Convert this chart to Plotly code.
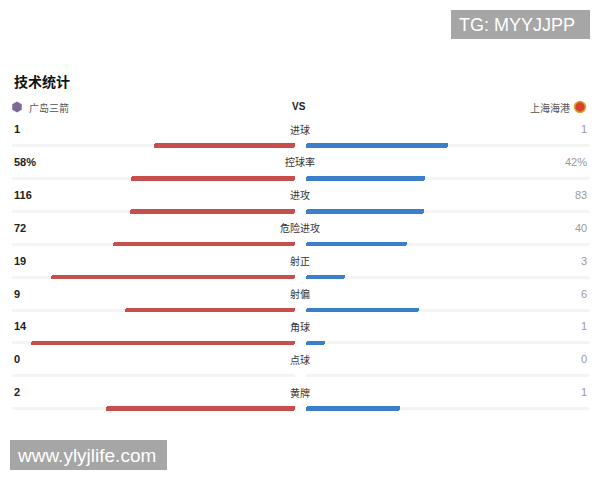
import plotly.graph_objects as go

# ---- data ----
stat_labels = ["进球", "控球率", "进攻", "危险进攻", "射正", "射偏", "角球", "点球", "黄牌"]
home_values = [1, 58, 116, 72, 19, 9, 14, 0, 2]
away_values = [1, 42, 83, 40, 3, 6, 1, 0, 1]
home_text = ["1", "58%", "116", "72", "19", "9", "14", "0", "2"]
away_text = ["1", "42%", "83", "40", "3", "6", "1", "0", "1"]
home_team = "广岛三箭"
away_team = "上海海港"
title_text = "技术统计"

# ---- layout constants (pixel space of the window) ----
PAGE_OFF = 8  # browser body margin
W, H = 600, 480
FIG_W, FIG_H = W - 2 * PAGE_OFF, H - 2 * PAGE_OFF
LEFT_END = 295
RIGHT_START = 306
TRACK = 283
ROW0_TEXT = 129
ROW_STEP = 32.9
BAR_OFFSET = 16.5

RED = "#c64f4c"
BLUE = "#3b7fcb"
TRACK_COL = "#f4f4f4"
CJK = "Noto Sans CJK SC"
LAT = "Liberation Sans, Arial"

n = len(stat_labels)
text_y = [ROW0_TEXT + i * ROW_STEP for i in range(n)]
bar_y = [t + BAR_OFFSET for t in text_y]

home_len, away_len = [], []
for h, a in zip(home_values, away_values):
    tot = h + a
    home_len.append(TRACK * h / tot if tot else 0)
    away_len.append(TRACK * a / tot if tot else 0)

fig = go.Figure()

# tracks
fig.add_trace(go.Bar(orientation="h", y=bar_y, x=[-TRACK] * n, base=LEFT_END,
                     width=3, marker=dict(color=TRACK_COL, line_width=0, cornerradius=1.5),
                     hoverinfo="skip", showlegend=False))
fig.add_trace(go.Bar(orientation="h", y=bar_y, x=[TRACK] * n, base=RIGHT_START,
                     width=3, marker=dict(color=TRACK_COL, line_width=0, cornerradius=1.5),
                     hoverinfo="skip", showlegend=False))
# value bars
fig.add_trace(go.Bar(orientation="h", y=bar_y, x=[-v for v in home_len], base=LEFT_END,
                     width=4.5, marker=dict(color=RED, line_width=0, cornerradius=2.2),
                     showlegend=False, name=home_team))
fig.add_trace(go.Bar(orientation="h", y=bar_y, x=away_len, base=RIGHT_START,
                     width=4.5, marker=dict(color=BLUE, line_width=0, cornerradius=2.2),
                     showlegend=False, name=away_team))

# team icons
fig.add_trace(go.Scatter(x=[17], y=[107], mode="markers",
                         marker=dict(symbol="hexagon", size=11, color="#7d6a9c"),
                         hoverinfo="skip", showlegend=False))
fig.add_trace(go.Scatter(x=[580], y=[107], mode="markers",
                         marker=dict(symbol="circle", size=11, color="#d2472a",
                                     line=dict(color="#e3a13a", width=1.5)),
                         hoverinfo="skip", showlegend=False))

ann = []
ann.append(dict(x=12, y=81, text="<b>" + title_text + "</b>", xanchor="left", yanchor="middle",
                font=dict(family=CJK, size=14, color="#111")))
ann.append(dict(x=27, y=107, text=home_team, xanchor="left", yanchor="middle",
                font=dict(family=CJK, size=10, color="#555")))
ann.append(dict(x=572, y=107, text=away_team, xanchor="right", yanchor="middle",
                font=dict(family=CJK, size=10, color="#555")))
ann.append(dict(x=299, y=106, text="<b>VS</b>", xanchor="center", yanchor="middle",
                font=dict(family=LAT, size=10, color="#222")))

for i in range(n):
    ann.append(dict(x=12, y=text_y[i], text="<b>" + home_text[i] + "</b>", xanchor="left",
                    yanchor="middle", font=dict(family=LAT, size=11, color="#222")))
    ann.append(dict(x=300, y=text_y[i], text=stat_labels[i], xanchor="center",
                    yanchor="middle", font=dict(family=CJK, size=10, color="#333")))
    ann.append(dict(x=589, y=text_y[i], text=away_text[i], xanchor="right",
                    yanchor="middle", font=dict(family=LAT, size=11, color="#9a9a9a")))

# watermark boxes
shapes = [
    dict(type="rect", x0=451, x1=590, y0=10, y1=39, fillcolor="#a6a6a6", line_width=0, layer="above"),
    dict(type="rect", x0=10, x1=167, y0=440, y1=470, fillcolor="#a6a6a6", line_width=0, layer="above"),
]
ann.append(dict(x=457, y=25, text="TG: MYYJJPP", xanchor="left", yanchor="middle",
                font=dict(family=LAT, size=18, color="white")))
ann.append(dict(x=15, y=455, text="www.ylyjlife.com", xanchor="left", yanchor="middle",
                font=dict(family=LAT, size=19, color="white")))

for a in ann:
    a.update(xref="x", yref="y", showarrow=False)

fig.update_layout(
    width=FIG_W, height=FIG_H, margin=dict(l=0, r=0, t=0, b=0),
    paper_bgcolor="white", plot_bgcolor="white",
    barmode="overlay", bargap=0,
    xaxis=dict(range=[PAGE_OFF, PAGE_OFF + FIG_W], visible=False, fixedrange=True),
    yaxis=dict(range=[PAGE_OFF + FIG_H, PAGE_OFF], visible=False, fixedrange=True),
    annotations=ann, shapes=shapes,
)

fig.write_html("out.html")
